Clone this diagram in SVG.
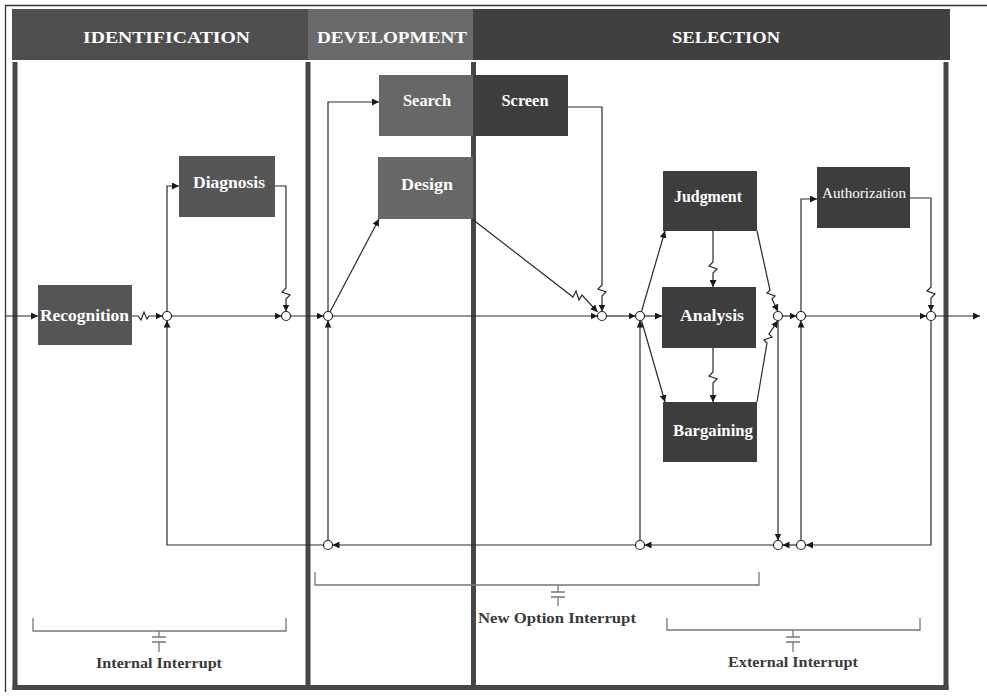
<svg xmlns="http://www.w3.org/2000/svg" width="987" height="697" viewBox="0 0 987 697">
<style>
.frame{fill:none;stroke:#333;stroke-width:1.3}
.div{stroke:#474747;stroke-width:5;fill:none}
.hdr{font-family:"Liberation Serif","DejaVu Serif",serif;font-weight:bold;font-size:16px;fill:#fff;text-anchor:middle}
.lbl{font-family:"Liberation Serif","DejaVu Serif",serif;font-weight:bold;font-size:16px;fill:#fff;text-anchor:middle}
.auth{font-family:"Liberation Serif","DejaVu Serif",serif;font-size:15px;fill:#fff;text-anchor:middle}
.n1{fill:#555}
.n2{fill:#676767}
.n3{fill:#3d3d3d}
.c{fill:none;stroke:#2a2a2a;stroke-width:1.2}
.j{fill:#fff;stroke:#222;stroke-width:1.2}
.br{fill:none;stroke:#777;stroke-width:1.3}
.it{font-family:"Liberation Serif","DejaVu Serif",serif;font-weight:bold;font-size:15px;fill:#3a3a3a;text-anchor:middle}
</style>
<defs>
<marker id="a" markerUnits="userSpaceOnUse" markerWidth="8" markerHeight="7" refX="7" refY="3.5" orient="auto">
<path d="M0,0 L7,3.5 L0,7 z" fill="#1a1a1a"/>
</marker>
</defs>

<g id="frame">
<line class="frame" x1="5" y1="5.5" x2="987" y2="5.5"/>
<line class="frame" x1="5.5" y1="5" x2="5.5" y2="692"/>
<rect x="12" y="9" width="296" height="51" fill="#4e4e4e"/>
<rect x="308" y="9" width="165" height="51" fill="#6a6a6a"/>
<rect x="473" y="9" width="477" height="51" fill="#404040"/>
<text class="hdr" x="166.5" y="43" textLength="167" lengthAdjust="spacingAndGlyphs">IDENTIFICATION</text>
<text class="hdr" x="392" y="43" textLength="150" lengthAdjust="spacingAndGlyphs">DEVELOPMENT</text>
<text class="hdr" x="726" y="43" textLength="108" lengthAdjust="spacingAndGlyphs">SELECTION</text>
<line class="div" x1="15" y1="62" x2="15" y2="690"/>
<line class="div" x1="308" y1="62" x2="308" y2="690"/>
<line class="div" x1="473.5" y1="62" x2="473.5" y2="690"/>
<line class="div" x1="946" y1="62" x2="946" y2="690"/>
<line class="div" x1="12.5" y1="687.5" x2="948.5" y2="687.5"/>
</g>

<g id="recognition"><rect class="n1" x="38" y="285" width="94" height="60"/><text class="lbl" x="84.5" y="321" textLength="89" lengthAdjust="spacingAndGlyphs">Recognition</text></g>
<g id="diagnosis"><rect class="n1" x="179" y="156" width="96" height="61"/><text class="lbl" x="229" y="188" textLength="72" lengthAdjust="spacingAndGlyphs">Diagnosis</text></g>
<g id="search"><rect class="n2" x="379" y="75" width="94" height="61"/><text class="lbl" x="427" y="106" textLength="48" lengthAdjust="spacingAndGlyphs">Search</text></g>
<g id="screen"><rect class="n3" x="473" y="75" width="95" height="61"/><text class="lbl" x="525" y="106" textLength="47" lengthAdjust="spacingAndGlyphs">Screen</text></g>
<g id="design"><rect class="n2" x="378" y="157" width="95" height="62"/><text class="lbl" x="427" y="190" textLength="52" lengthAdjust="spacingAndGlyphs">Design</text></g>
<g id="judgment"><rect class="n3" x="663" y="171" width="94" height="60"/><text class="lbl" x="708" y="202" textLength="68" lengthAdjust="spacingAndGlyphs">Judgment</text></g>
<g id="analysis"><rect class="n3" x="662" y="287" width="94" height="61"/><text class="lbl" x="712" y="321" textLength="64" lengthAdjust="spacingAndGlyphs">Analysis</text></g>
<g id="bargaining"><rect class="n3" x="663" y="402" width="94" height="60"/><text class="lbl" x="713" y="436" textLength="80" lengthAdjust="spacingAndGlyphs">Bargaining</text></g>
<g id="authorization"><rect class="n3" x="817" y="167" width="93" height="61"/><text class="auth" x="864" y="198" textLength="84" lengthAdjust="spacingAndGlyphs">Authorization</text></g>

<g id="connectors">
<path class="c" marker-end="url(#a)" d="M5,316 H38"/>
<path class="c" marker-end="url(#a)" d="M132,316 H138 l3,4 l3,-8 l3,7 l2,-3 H162.5"/>
<path class="c" marker-end="url(#a)" d="M167,311.5 V186 H179"/>
<path class="c" marker-end="url(#a)" d="M171.5,316 H281.5"/>
<path class="c" marker-end="url(#a)" d="M275,186 H286 V288 l-4,4 l8,3 l-4,4 V311.5"/>
<path class="c" marker-end="url(#a)" d="M290.5,316 H323.5"/>
<path class="c" marker-end="url(#a)" d="M328,311.5 V102 H379"/>
<path class="c" marker-end="url(#a)" d="M330,312 L379,219"/>
<path class="c" marker-end="url(#a)" d="M472,219 L573,297 l3,-6 l3,9 l3,-5 L597.5,312"/>
<path class="c" marker-end="url(#a)" d="M568,107 H602 V285 l-4,4 l8,3 l-4,4 V311.5"/>
<path class="c" marker-end="url(#a)" d="M332.5,316 H597.5"/>
<path class="c" marker-end="url(#a)" d="M606.5,316 H635.5"/>
<path class="c" marker-end="url(#a)" d="M641.5,311.5 L665,231"/>
<path class="c" marker-end="url(#a)" d="M644.5,316 H662"/>
<path class="c" marker-end="url(#a)" d="M641.5,320.5 L665,402"/>
<path class="c" marker-end="url(#a)" d="M713,231 V262 l-4,4 l8,3 l-4,4 V287"/>
<path class="c" marker-end="url(#a)" d="M713,348 V372 l-4,4 l8,3 l-4,4 V402"/>
<path class="c" marker-end="url(#a)" d="M757,231 L770,290 l-3,3 l8,3 l-3,3 L778,311.5"/>
<path class="c" marker-end="url(#a)" d="M757,402 L767,343 l-3,-3 l8,-3 l-3,-3 L778,320.5"/>
<path class="c" marker-end="url(#a)" d="M782.5,316 H796.5"/>
<path class="c" marker-end="url(#a)" d="M801,311.5 V199 H817"/>
<path class="c" marker-end="url(#a)" d="M805.5,316 H926.5"/>
<path class="c" marker-end="url(#a)" d="M910,198 H931 V287 l-4,4 l8,3 l-4,4 V311.5"/>
<path class="c" marker-end="url(#a)" d="M935.5,316 H980"/>
<path class="c" marker-end="url(#a)" d="M931,320.5 V545 H806"/>
<path class="c" marker-end="url(#a)" d="M801,540.5 V320.5"/>
<path class="c" marker-end="url(#a)" d="M778,320.5 V540.5"/>
<path class="c" marker-end="url(#a)" d="M796.5,545 H782.5"/>
<path class="c" marker-end="url(#a)" d="M773.5,545 H644.5"/>
<path class="c" marker-end="url(#a)" d="M640,540.5 V320.5"/>
<path class="c" marker-end="url(#a)" d="M635.5,545 H332.5"/>
<path class="c" marker-end="url(#a)" d="M328,540.5 V320.5"/>
<path class="c" marker-end="url(#a)" d="M323.5,545 H167 V320.5"/>
</g>

<g id="junctions">
<circle class="j" cx="167" cy="316" r="4.5"/>
<circle class="j" cx="286" cy="316" r="4.5"/>
<circle class="j" cx="328" cy="316" r="4.5"/>
<circle class="j" cx="602" cy="316" r="4.5"/>
<circle class="j" cx="640" cy="316" r="4.5"/>
<circle class="j" cx="778" cy="316" r="4.5"/>
<circle class="j" cx="801" cy="316" r="4.5"/>
<circle class="j" cx="931" cy="316" r="4.5"/>
<circle class="j" cx="328" cy="545" r="4.5"/>
<circle class="j" cx="640" cy="545" r="4.5"/>
<circle class="j" cx="778" cy="545" r="4.5"/>
<circle class="j" cx="801" cy="545" r="4.5"/>
</g>

<g id="internal-interrupt">
<path class="br" d="M33,618 V631 H286 V618"/>
<path class="br" d="M159,631 V637 M152,637 H166 M152,642 H166 M159,642 V652"/>
<text class="it" x="159" y="668" textLength="126" lengthAdjust="spacingAndGlyphs">Internal Interrupt</text>
</g>
<g id="new-option-interrupt">
<path class="br" d="M315,572 V585 H759 V572"/>
<path class="br" d="M558,585 V592 M551,592 H565 M551,597 H565 M558,597 V606"/>
<text class="it" x="557" y="623" textLength="158" lengthAdjust="spacingAndGlyphs">New Option Interrupt</text>
</g>
<g id="external-interrupt">
<path class="br" d="M667,618 V630 H920 V618"/>
<path class="br" d="M793,630 V637 M786,637 H800 M786,642 H800 M793,642 V652"/>
<text class="it" x="793" y="667" textLength="130" lengthAdjust="spacingAndGlyphs">External Interrupt</text>
</g>
</svg>
